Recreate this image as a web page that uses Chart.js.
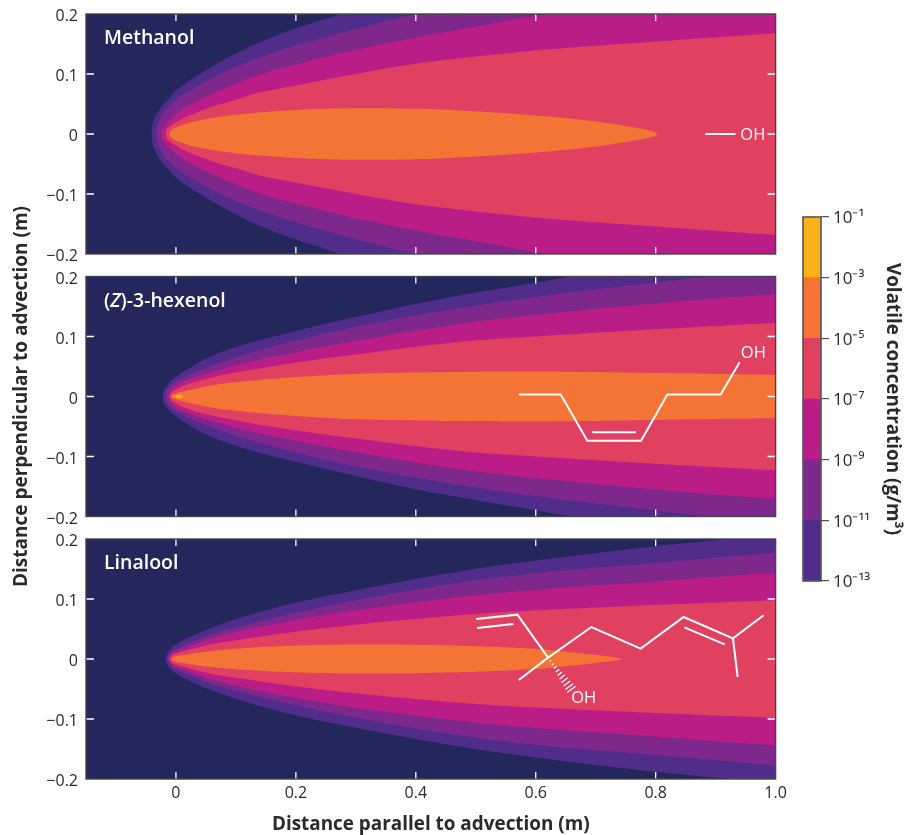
<!DOCTYPE html>
<html><head><meta charset="utf-8">
<script src="https://cdn.jsdelivr.net/npm/chart.js@4"></script>
<style>html,body{margin:0;background:#fff}canvas{position:absolute;left:0;top:0}</style>
</head><body>
<canvas id="c1" width="904" height="835"></canvas>
<canvas id="c2" width="904" height="835"></canvas>
<canvas id="c3" width="904" height="835"></canvas>
<canvas id="c4" width="904" height="835"></canvas>
<script>
// band colours, lowest to highest decade pair
const bandColors = ['#512d8b','#7f288c','#bb1d87','#e14161','#f47436','#fab317'];
const navy = '#24275b';
const panelLabelsText = ['Methanol','(Z)-3-hexenol','Linalool'];
const xTickValues = [0,0.2,0.4,0.6,0.8,1.0];
const colorbarEdges = [-13,-11,-9,-7,-5,-3,-1];
const superscripts = {'-':'⁻','0':'⁰','1':'¹','2':'²','3':'³','4':'⁴','5':'⁵','6':'⁶','7':'⁷','8':'⁸','9':'⁹'};

// contour half-widths [x (m), half width (m)]
const methanol13 = [[-.041,0],[-.0405,.009],[-.038,.02],[-.034,.03],[-.028,.04],[-.021,.05],[-.011,.06],[0,.072],[.018,.086],[.04,.1],[.065,.115],[.096,.132],[.14,.153],[.2,.176],[.276,.2],[.38,.23],[.5,.262],[.75,.32],[1,.37]];
const methanol11 = [[-.033,0],[-.0325,.008],[-.03,.018],[-.025,.028],[-.021,.035],[-.011,.046],[0,.057],[.018,.069],[.04,.082],[.065,.095],[.096,.11],[.14,.127],[.2,.147],[.3,.175],[.4,.2],[.6,.241],[.8,.277],[1,.31]];
const methanol9  = [[-.024,0],[-.0235,.005],[-.021,.011],[-.016,.018],[-.008,.026],[0,.033],[.018,.046],[.04,.057],[.065,.069],[.096,.082],[.14,.099],[.2,.116],[.3,.14],[.4,.161],[.457,.171],[.618,.2],[.8,.23],[1,.26]];
const methanol7  = [[-.017,0],[-.0165,.004],[-.014,.009],[-.01,.013],[-.004,.017],[.01,.025],[.04,.038],[.065,.047],[.096,.056],[.14,.069],[.2,.081],[.3,.1],[.4,.117],[.457,.124],[.6,.139],[.8,.154],[1,.168]];
const methanol5  = [[-.011,0],[-.0105,.003],[-.008,.006],[-.004,.009],[0,.011],[.02,.018],[.04,.023],[.1,.032],[.2,.04],[.3,.043],[.4,.042],[.457,.04],[.6,.031],[.7,.021],[.77,.01],[.79,.006],[.8,.0025],[.803,0]];

const hexenol13 = [[-.022,0],[-.0215,.006],[-.019,.013],[-.013,.021],[-.004,.03],[.018,.045],[.057,.066],[.112,.086],[.196,.108],[.307,.134],[.434,.161],[.66,.2],[.8,.224],[1,.25]];
const hexenol11 = [[-.018,0],[-.0175,.004],[-.015,.01],[-.01,.017],[-.004,.022],[.018,.034],[.057,.05],[.112,.069],[.196,.092],[.307,.118],[.473,.147],[.6,.166],[.75,.184],[.89,.2],[1,.212]];
const hexenol9  = [[-.013,0],[-.0125,.0035],[-.01,.0085],[-.005,.0135],[.001,.019],[.018,.027],[.057,.04],[.112,.055],[.196,.073],[.307,.094],[.473,.121],[.6,.136],[.8,.155],[1,.171]];
const hexenol7  = [[-.01,0],[-.0095,.0027],[-.007,.0065],[-.002,.0105],[.018,.02],[.057,.031],[.112,.042],[.196,.056],[.307,.071],[.473,.091],[.6,.1],[.8,.112],[1,.123]];
const hexenol5  = [[-.008,0],[-.0075,.0016],[-.005,.0034],[0,.0052],[.018,.0095],[.057,.018],[.112,.025],[.196,.032],[.307,.038],[.473,.041],[.6,.0415],[.8,.039],[1,.036]];
const hexenol3  = [[-.002,0],[.001,.0025],[.005,.003],[.009,.0025],[.012,0]];

const linalool13 = [[-.017,0],[-.0165,.0042],[-.014,.0104],[-.01,.016],[-.004,.0216],[.018,.034],[.057,.051],[.112,.07],[.196,.093],[.307,.116],[.473,.146],[.6,.164],[.8,.188],[.923,.2],[1,.208]];
const linalool11 = [[-.014,0],[-.0135,.0035],[-.011,.0085],[-.005,.014],[.018,.025],[.057,.04],[.112,.056],[.196,.076],[.307,.099],[.473,.127],[.6,.143],[.8,.16],[1,.177]];
const linalool9  = [[-.012,0],[-.0115,.003],[-.009,.0072],[-.004,.0115],[.018,.019],[.057,.033],[.112,.047],[.196,.064],[.307,.082],[.473,.103],[.6,.115],[.8,.129],[1,.144]];
const linalool7  = [[-.01,0],[-.0095,.0021],[-.007,.0053],[-.002,.0087],[.018,.014],[.057,.024],[.112,.033],[.196,.045],[.307,.058],[.473,.073],[.6,.081],[.8,.09],[1,.098]];
const linalool5  = [[-.007,0],[-.0065,.0013],[-.004,.003],[0,.0045],[.018,.0075],[.057,.013],[.112,.018],[.196,.022],[.307,.024],[.473,.022],[.6,.0167],[.65,.012],[.7,.0065],[.73,.003],[.745,0]];

// structural formula strokes, in data units
const methanolBonds = [[[.883,0],[.933,0]]];
const hexenolBonds = [
  [[.5717,.0033],[.6417,.0033],[.686,-.0739],[.7756,-.0739],[.8194,.0033],[.9083,.0033],[.94,.0572]],
  [[.6944,-.0594],[.7672,-.0594]]
];
const linaloolBonds = [
  [[.5717,-.035],[.6206,.0022],[.6928,.0533],[.775,.0172],[.8467,.07],[.9289,.0344],[.98,.0728]],
  [[.9289,.0344],[.9367,-.03]],
  [[.5006,.0667],[.5694,.0739],[.6206,.0022]],
  [[.5022,.0517],[.5628,.0583]],
  [[.8478,.0528],[.915,.0244]]
];
const linaloolHash = [[.6245,-.0033,.0007],[.6285,-.0086,.0012],[.6324,-.014,.0017],[.6363,-.0193,.0022],[.6402,-.0246,.0027],[.6441,-.03,.0032],[.648,-.0353,.0037],[.6519,-.0407,.0042],[.6558,-.046,.0048],[.6594,-.0506,.0053]];
const oxygenLabels = [[{x:.962,y:-.002}],[{x:.9628,y:.072}],[{x:.68,y:-.066}]];

const FONT = '"Open Sans"';
const INK = '#2a2a2a';

function contourSets(levels){
  const sets = [];
  levels.forEach((c,i)=>{
    const common = {borderWidth:0,pointRadius:0,tension:0.4,order:100-i};
    sets.push({...common,data:c.map(p=>({x:p[0],y:p[1]})),fill:'+1',backgroundColor:bandColors[i],borderColor:bandColors[i]});
    sets.push({...common,data:c.map(p=>({x:p[0],y:-p[1]})),fill:false,backgroundColor:bandColors[i],borderColor:bandColors[i]});
  });
  return sets;
}
function bondSets(strokes,width){
  return strokes.map(s=>({data:s.map(p=>({x:p[0],y:p[1]})),borderColor:'#ffffff',borderWidth:width||2,pointRadius:0,fill:false,tension:0,order:0,borderCapStyle:'butt',borderJoinStyle:'miter'}));
}

const panelPlugin = {
  id:'panelPlugin',
  beforeDatasetsDraw(chart){
    const a = chart.chartArea, g = chart.ctx;
    g.save(); g.fillStyle = navy; g.fillRect(a.left,a.top,a.right-a.left,a.bottom-a.top); g.restore();
  },
  afterDatasetsDraw(chart,args,opts){
    const a = chart.chartArea, g = chart.ctx, sx = chart.scales.x, sy = chart.scales.y;
    g.save();
    g.strokeStyle = '#ffffff'; g.lineWidth = 1.3;
    g.beginPath();
    xTickValues.slice(0,5).forEach(v=>{
      const p = sx.getPixelForValue(v);
      g.moveTo(p,a.top); g.lineTo(p,a.top+7);
      g.moveTo(p,a.bottom); g.lineTo(p,a.bottom-7);
    });
    [-0.1,0,0.1].forEach(v=>{
      const p = sy.getPixelForValue(v);
      g.moveTo(a.left,p); g.lineTo(a.left+8,p);
      g.moveTo(a.right,p); g.lineTo(a.right-8,p);
    });
    g.stroke();
    g.strokeStyle = '#45424f'; g.lineWidth = 1.4;
    g.strokeRect(a.left,a.top,a.right-a.left,a.bottom-a.top);
    // panel name
    g.fillStyle = '#ffffff'; g.textBaseline='middle'; g.textAlign='left';
    let px = a.left+18; const py = a.top+24.5;
    opts.name.forEach(part=>{
      g.font = (part[1]?'italic ':'')+'600 19.5px '+FONT;
      g.fillText(part[0],px,py);
      px += g.measureText(part[0]).width;
    });
    // OH labels
    g.textAlign='center'; g.font='400 16.5px '+FONT;
    opts.oh.forEach(o=>g.fillText('OH',sx.getPixelForValue(o.x),sy.getPixelForValue(o.y)));
    g.restore();
  }
};

function fmtY(v){
  if(Math.abs(v)<1e-9) return '0';
  return (v<0?'−':'')+Math.abs(v).toFixed(1);
}
function noMargins(s){ s.paddingTop=0; s.paddingBottom=0; s.paddingLeft=0; s.paddingRight=0; }
function panel(id,top,levels,bonds,name,oh,isBottom,isMiddle,extra){
  const bottom = top+240;
  const xH = isBottom?56:0;
  return new Chart(document.getElementById(id),{
    type:'line',
    data:{datasets:[...contourSets(levels),...bondSets(bonds),...(extra||[])]},
    options:{
      responsive:false,animation:false,
      layout:{padding:{left:0,right:904-775.6,top:top,bottom:835-bottom-xH}},
      plugins:{legend:{display:false},tooltip:{enabled:false},panelPlugin:{name:name,oh:oh}},
      scales:{
        x:{type:'linear',min:-0.15,max:1,
          grid:{display:false,drawTicks:false},border:{display:false},
          afterBuildTicks:s=>{s.ticks=xTickValues.map(v=>({value:v}));},
          afterFit:s=>{s.height=xH;noMargins(s);},
          ticks:{display:isBottom,autoSkip:false,maxRotation:0,padding:5,color:INK,font:{family:FONT,size:16},callback:v=>v.toFixed(1).replace(/^0\.0$/,'0')},
          title:{display:isBottom,text:'Distance parallel to advection (m)',color:INK,font:{family:FONT,size:18.9,weight:'700'},padding:{top:0,bottom:-1}}
        },
        y:{type:'linear',min:-0.2,max:0.2,
          grid:{display:false,drawTicks:false},border:{display:false},
          afterFit:s=>{s.width=86;noMargins(s);},
          ticks:{stepSize:0.1,padding:8,labelOffset:2.5,color:INK,font:{family:FONT,size:16},callback:fmtY},
          title:{display:isMiddle,text:'Distance perpendicular to advection (m)',color:INK,font:{family:FONT,size:19,weight:'700'},padding:{top:10,bottom:0}}
        }
      }
    },
    plugins:[panelPlugin]
  });
}
const hashSets = bondSets(linaloolHash.map(h=>[[h[0]-h[2]*1.34,h[1]-h[2]],[h[0]+h[2]*1.34,h[1]+h[2]]]),1.3);

panel('c1',14,[methanol13,methanol11,methanol9,methanol7,methanol5],methanolBonds,[[panelLabelsText[0],false]],oxygenLabels[0],false,false);
panel('c2',276.5,[hexenol13,hexenol11,hexenol9,hexenol7,hexenol5,hexenol3],hexenolBonds,[['(',false],['Z',true],[')-3-hexenol',false]],oxygenLabels[1],false,true);
panel('c3',539,[linalool13,linalool11,linalool9,linalool7,linalool5],linaloolBonds,[[panelLabelsText[2],false]],oxygenLabels[2],true,false,hashSets);

// colour bar
const barFrame = {id:'barFrame',afterDatasetsDraw(chart){
  const a=chart.chartArea,g=chart.ctx;
  g.save();g.strokeStyle='#55525c';g.lineWidth=1.6;g.strokeRect(a.left,a.top,a.right-a.left,a.bottom-a.top);g.restore();
}};
new Chart(document.getElementById('c4'),{
  type:'bar',
  data:{labels:['band'],datasets:bandColors.map((c,i)=>({data:[[colorbarEdges[i],colorbarEdges[i+1]]],backgroundColor:c,barPercentage:1,categoryPercentage:1,borderWidth:0}))},
  options:{
    responsive:false,animation:false,
    layout:{padding:{left:803,right:0,top:217,bottom:835-581}},
    plugins:{legend:{display:false},tooltip:{enabled:false}},
    scales:{
      x:{stacked:true,display:false,grid:{display:false}},
      y:{position:'right',min:-13,max:-1,
        border:{display:false},
        grid:{display:true,drawOnChartArea:false,drawTicks:true,tickLength:8,color:'#55525c',lineWidth:1.2},
        afterFit:s=>{s.width=904-821;noMargins(s);},
        ticks:{stepSize:2,padding:4,labelOffset:1.5,color:INK,font:{family:FONT,size:17},
          callback:v=>'10'+String(v).split('').map(ch=>superscripts[ch]).join('')},
        title:{display:true,text:'Volatile concentration (g/m³)',color:INK,font:{family:FONT,size:18.9,weight:'700'},padding:{top:0,bottom:0}}
      }
    }
  },
  plugins:[barFrame]
});
</script>
</body></html>
